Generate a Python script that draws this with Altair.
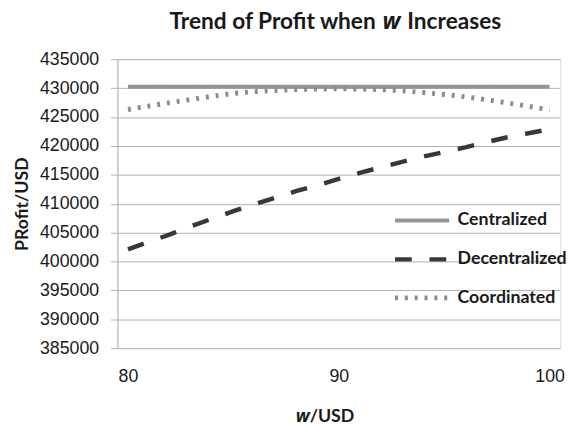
import altair as alt
import pandas as pd

w_values = list(range(80, 101))
centralized = [430250, 430250, 430250, 430250, 430250, 430250, 430250, 430250, 430250, 430250, 430250,
               430250, 430250, 430250, 430250, 430250, 430250, 430250, 430250, 430250, 430250]
decentralized = [402100, 403400, 404700, 406100, 407400, 408700, 409900, 411050, 412200, 413200, 414300,
                 415350, 416300, 417250, 418150, 418950, 419750, 420650, 421500, 422200, 422900]
coordinated = [426300, 426900, 427500, 428050, 428600, 429100, 429400, 429600, 429750, 429850, 429900,
               429850, 429750, 429550, 429250, 428900, 428500, 428000, 427450, 426850, 426250]
series_names = ["Centralized", "Decentralized", "Coordinated"]
y_ticks = [385000, 390000, 395000, 400000, 405000, 410000, 415000, 420000, 425000, 430000, 435000]
x_ticks = [80, 90, 100]

rows = []
for name, vals in zip(series_names, [centralized, decentralized, coordinated]):
    for wv, v in zip(w_values, vals):
        rows.append({"w": wv, "series": name, "profit": v})
df = pd.DataFrame(rows)

W, H = 449, 293
GRID = "#b3b3b3"
TXT = "#1a1a1a"

leg = dict(title=None, orient="none", legendX=279, legendY=134,
           symbolType="stroke", symbolSize=3025, symbolStrokeWidth=4,
           labelFont="Lato", labelFontSize=18, labelFontWeight="bold",
           labelColor=TXT, labelOffset=6, rowPadding=0, padding=0)

lines = alt.Chart(df).mark_line(strokeCap="butt", strokeJoin="round").encode(
    x=alt.X("w:Q", scale=alt.Scale(domain=[79.5, 100.5], nice=False, zero=False),
            axis=alt.Axis(values=x_ticks, title=None, grid=False, domain=False, ticks=False,
                          labelFont="Liberation Sans", labelFontSize=18, labelColor=TXT,
                          labelPadding=20)),
    y=alt.Y("profit:Q", scale=alt.Scale(domain=[385000, 435000], nice=False, zero=False),
            axis=alt.Axis(values=y_ticks, format="d", title="PRofit/USD", grid=True,
                          gridColor=GRID, gridWidth=1, domainColor=GRID, domainWidth=1,
                          tickColor=GRID, tickSize=7, labelFont="Liberation Sans",
                          labelFontSize=18, labelColor=TXT, labelPadding=12,
                          titleFont="Lato", titleFontSize=18, titleFontWeight="bold",
                          titleColor=TXT, titlePadding=8)),
    color=alt.Color("series:N", sort=series_names,
                    scale=alt.Scale(domain=series_names, range=["#959595", "#383838", "#8c8c8c"]),
                    legend=alt.Legend(**leg)),
    strokeDash=alt.StrokeDash("series:N", sort=series_names,
                              scale=alt.Scale(domain=series_names, range=[[1, 0], [17, 18], [3, 7]]),
                              legend=alt.Legend(**leg)),
    strokeWidth=alt.StrokeWidth("series:N", scale=alt.Scale(domain=series_names, range=[4, 5, 4]),
                                legend=None),
)

one = alt.Data(values=[{"k": 1}])
tstyle = dict(fontSize=23, fontWeight="bold", color=TXT, baseline="alphabetic")
t1 = alt.Chart(one).mark_text(text="Trend of Profit when", align="right", font="Lato", **tstyle).encode(
    x=alt.value(262), y=alt.value(-31))
t2 = alt.Chart(one).mark_text(text="w", align="center", font="Open Sans", fontStyle="italic", **tstyle).encode(
    x=alt.value(278), y=alt.value(-31))
t3 = alt.Chart(one).mark_text(text="Increases", align="left", font="Lato", **tstyle).encode(
    x=alt.value(294), y=alt.value(-31))

xstyle = dict(fontSize=18, fontWeight="bold", color=TXT, baseline="alphabetic")
x1 = alt.Chart(one).mark_text(text="w", align="right", font="Open Sans", fontStyle="italic", **xstyle).encode(
    x=alt.value(195), y=alt.value(368))
x2 = alt.Chart(one).mark_text(text="/USD", align="left", font="Lato", **xstyle).encode(
    x=alt.value(195), y=alt.value(368))

chart = alt.layer(lines, t1, t2, t3, x1, x2).properties(
    width=W, height=H,
    autosize=alt.AutoSizeParams(type="none"),
    padding={"left": 111, "top": 49, "right": 8, "bottom": 76},
).configure_view(stroke=None).configure(background="white")

chart.save("out.html", embed_options={"renderer": "svg", "actions": False})
